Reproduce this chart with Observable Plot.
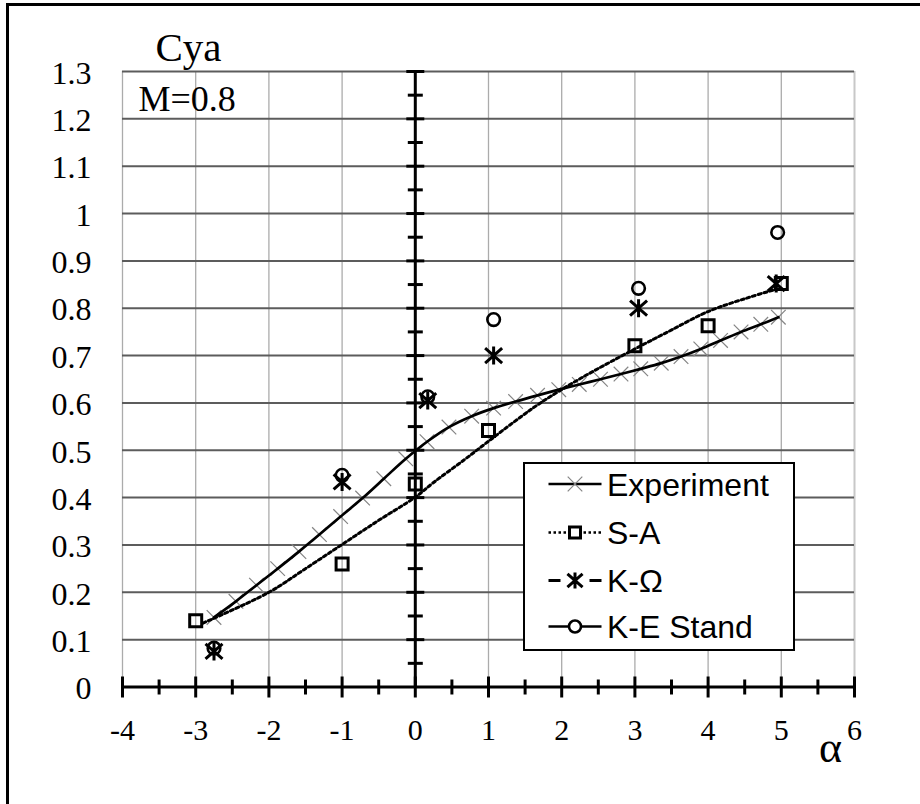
<!DOCTYPE html>
<html>
<head>
<meta charset="utf-8">
<script src="https://cdn.jsdelivr.net/npm/d3@7"></script>
<script src="https://cdn.jsdelivr.net/npm/@observablehq/plot@0.6"></script>
<style>
  html, body { margin: 0; padding: 0; background: #fff; overflow: hidden; }
  #wrap { position: relative; width: 920px; height: 804px; overflow: hidden; background: #fff; }
  #chart { position: absolute; left: 0; top: 0; }
  #chart svg text { font-family: "Liberation Serif", "Times New Roman", serif; }
  #border { position: absolute; left: 6px; top: 3px; width: 1000px; height: 1000px;
            border: 3px solid #000; box-sizing: border-box; pointer-events: none; }
  #legend { position: absolute; left: 523px; top: 462px; width: 272px; height: 189px;
            box-sizing: border-box; border: 2px solid #000; background: #fff; }
  #legend svg { position: absolute; left: 0; top: 0; }
  #legend svg text { font-family: "Liberation Sans", Arial, sans-serif; }
</style>
</head>
<body>
<div id="wrap">
  <div id="chart"></div>
  <div id="border"></div>
  <div id="legend"></div>
</div>
<script>
// Lift coefficient Cya versus angle of attack α at M = 0.8

// Experiment
const expAlpha = [-2.75, -2.45, -2.17, -1.88, -1.59, -1.31, -1.02, -0.72, -0.43, -0.13,
                  0.16, 0.46, 0.77, 1.07, 1.37, 1.67, 1.96, 2.24, 2.53, 2.81,
                  3.08, 3.36, 3.63, 3.90, 4.17, 4.45, 4.72, 4.96];
const expCya   = [0.147, 0.181, 0.215, 0.250, 0.286, 0.322, 0.360, 0.399, 0.440, 0.482,
                  0.518, 0.549, 0.572, 0.589, 0.603, 0.616, 0.628, 0.639, 0.650, 0.661,
                  0.672, 0.684, 0.698, 0.714, 0.732, 0.750, 0.766, 0.781];

// S-A: computed points and its dotted trend curve
const saAlpha = [-3, -1, 0, 1, 3, 4, 5];
const saCya   = [0.140, 0.260, 0.429, 0.542, 0.721, 0.763, 0.852];
const saCurveAlpha = [-2.9, -2.0, -1.5, -1.0, -0.5, 0, 0.25, 0.67, 1.0, 1.35, 1.71, 2.26, 3.0, 3.45, 4.0, 4.54, 4.95];
const saCurveCya   = [0.135, 0.200, 0.250, 0.301, 0.352, 0.401, 0.432, 0.480, 0.519, 0.560, 0.600, 0.652, 0.714, 0.750, 0.793, 0.822, 0.841];

// K-Ω
const kwAlpha = [-2.75, -1.0, 0.17, 1.07, 3.05, 4.93];
const kwCya   = [0.075, 0.433, 0.605, 0.700, 0.800, 0.852];

// K-E Stand
const keAlpha = [-2.75, -1.0, 0.17, 1.07, 3.05, 4.95];
const keCya   = [0.082, 0.447, 0.613, 0.776, 0.842, 0.960];

// Axes
const xMajorTicks = [-4, -3, -2, -1, 0, 1, 2, 3, 4, 5, 6];
const xMinorTicks = [-3.5, -2.5, -1.5, -0.5, 0.5, 1.5, 2.5, 3.5, 4.5, 5.5];
const xTickLabels = ["-4", "-3", "-2", "-1", "0", "1", "2", "3", "4", "5", "6"];
const yMajorTicks = [0, 0.1, 0.2, 0.3, 0.4, 0.5, 0.6, 0.7, 0.8, 0.9, 1, 1.1, 1.2, 1.3];
const yMinorTicks = [0.05, 0.15, 0.25, 0.35, 0.45, 0.55, 0.65, 0.75, 0.85, 0.95, 1.05, 1.15, 1.25];
const yTickLabels = ["0", "0.1", "0.2", "0.3", "0.4", "0.5", "0.6", "0.7", "0.8", "0.9", "1", "1.1", "1.2", "1.3"];

const seriesNames = ["Experiment", "S-A", "K-Ω", "K-E Stand"];

const rows = (xs, ys) => xs.map((a, i) => ({a, c: ys[i]}));
const expData = rows(expAlpha, expCya);
const saData = rows(saAlpha, saCya);
const saCurve = rows(saCurveAlpha, saCurveCya);
const kwData = rows(kwAlpha, kwCya);
const keData = rows(keAlpha, keCya);

// Custom symbols (size = r²π, as passed by Plot.dot)
const rad = size => Math.sqrt(size / Math.PI);
const vTick = {draw(ctx, size) { const r = rad(size); ctx.moveTo(0, -r); ctx.lineTo(0, r); }};
const hTick = {draw(ctx, size) { const r = rad(size); ctx.moveTo(-r, 0); ctx.lineTo(r, 0); }};
const openBox = {draw(ctx, size) { const r = rad(size); ctx.rect(-r, -r, 2 * r, 2 * r); }};
const star = {draw(ctx, size) {
  const k = rad(size) / 9;
  ctx.moveTo(0, -9 * k); ctx.lineTo(0, 9 * k);
  ctx.moveTo(-8.5 * k, -7.5 * k); ctx.lineTo(8.5 * k, 7.5 * k);
  ctx.moveTo(-8.5 * k, 7.5 * k); ctx.lineTo(8.5 * k, -7.5 * k);
}};
const cross = {draw(ctx, size) {
  const r = rad(size);
  ctx.moveTo(-r, -r); ctx.lineTo(r, r);
  ctx.moveTo(-r, r); ctx.lineTo(r, -r);
}};
const ring = {draw(ctx, size) { const r = rad(size); ctx.moveTo(r, 0); ctx.arc(0, 0, r, 0, 2 * Math.PI); }};

const serif = "Liberation Serif";

const plot = Plot.plot({
  width: 920,
  height: 804,
  marginLeft: 122,
  marginRight: 66,
  marginTop: 71,
  marginBottom: 117.5,
  x: {domain: [-4, 6]},
  y: {domain: [0, 1.3]},
  style: {background: "transparent", color: "#000", overflow: "visible"},
  marks: [
    // grid
    Plot.ruleX(xMajorTicks.filter(d => d !== 0 && d !== 6), {x: d => d, stroke: "#ababab", strokeWidth: 1.3}),
    Plot.ruleX([6], {x: d => d, stroke: "#c8c8c8", strokeWidth: 2}),
    Plot.ruleY(yMajorTicks.filter(d => d !== 0), {y: d => d, stroke: "#5c5c5c", strokeWidth: 2}),

    // axes through the origin
    Plot.ruleX([0], {x: d => d, stroke: "#000", strokeWidth: 3}),
    Plot.ruleY([0], {y: d => d, stroke: "#000", strokeWidth: 3}),
    Plot.dot(xMajorTicks, {x: d => d, y: () => 0, symbol: vTick, r: 10.5, stroke: "#000", strokeWidth: 3}),
    Plot.dot(xMinorTicks, {x: d => d, y: () => 0, symbol: vTick, r: 7.5, stroke: "#000", strokeWidth: 3}),
    Plot.dot(yMajorTicks.filter(d => d !== 0), {x: () => 0, y: d => d, symbol: hTick, r: 9, stroke: "#000", strokeWidth: 3}),
    Plot.dot(yMinorTicks, {x: () => 0, y: d => d, symbol: hTick, r: 7.5, stroke: "#000", strokeWidth: 3}),

    Plot.axisX({
      ticks: xMajorTicks, tickSize: 0, tickPadding: 32, fontSize: 30, fontFamily: serif, label: null,
      tickFormat: d => xTickLabels[xMajorTicks.indexOf(d)]
    }),
    Plot.axisY({
      ticks: yMajorTicks, tickSize: 0, tickPadding: 31, fontSize: 32, fontFamily: serif, dy: 2, label: null,
      tickFormat: d => yTickLabels[yMajorTicks.indexOf(d)]
    }),

    // Experiment
    Plot.dot(expData, {x: "a", y: "c", symbol: cross, r: 7.3, stroke: "#858585", strokeWidth: 1.2, fill: "none"}),
    Plot.line(expData, {x: "a", y: "c", curve: "catmull-rom", stroke: "#000", strokeWidth: 2.7}),

    // S-A
    Plot.line(saCurve, {x: "a", y: "c", curve: "catmull-rom", stroke: "#000", strokeWidth: 3, strokeDasharray: "3,3"}),
    Plot.dot(saData, {x: "a", y: "c", symbol: openBox, r: 6, stroke: "#000", strokeWidth: 3, fill: "none"}),

    // K-Ω
    Plot.dot(kwData, {x: "a", y: "c", symbol: star, r: 9, stroke: "#000", strokeWidth: 3, fill: "none"}),

    // K-E Stand
    Plot.dot(keData, {x: "a", y: "c", symbol: ring, r: 6.3, stroke: "#000", strokeWidth: 2.6, fill: "none"}),

    // titles
    Plot.text(["Cya"], {text: d => d, frameAnchor: "top-left", dx: 33, dy: -11, lineAnchor: "bottom",
                        textAnchor: "start", fontSize: 41, fontFamily: serif, fill: "#000"}),
    Plot.text(["M=0.8"], {text: d => d, frameAnchor: "top-left", dx: 16, dy: 39, lineAnchor: "bottom",
                          textAnchor: "start", fontSize: 36, fontFamily: serif, fill: "#000"}),
    Plot.text(["α"], {text: d => d, frameAnchor: "bottom-right", dx: -24, dy: 61, lineAnchor: "middle",
                      textAnchor: "middle", fontSize: 44, fontFamily: serif, fill: "#000"})
  ]
});
document.getElementById("chart").appendChild(plot);

// Legend box
(function drawLegend() {
  const svg = d3.select("#legend").append("svg").attr("width", 268).attr("height", 185);
  const rowY = [20, 68.5, 116.5, 162.5];
  const x0 = 23.5, x1 = 76.5, xm = 50, tx = 82;
  const symPath = (sym, r) => { const p = d3.path(); sym.draw(p, r * r * Math.PI); return p.toString(); };
  const g = svg.selectAll("g").data(seriesNames).join("g")
    .attr("transform", (d, i) => `translate(0,${rowY[i]})`);

  g.each(function (name, i) {
    const row = d3.select(this);
    if (i === 0) {
      row.append("line").attr("x1", x0).attr("x2", x1).attr("stroke", "#000").attr("stroke-width", 2.7);
      row.append("path").attr("d", symPath(cross, 7.3)).attr("transform", `translate(${xm},0)`)
        .attr("stroke", "#858585").attr("stroke-width", 1.2).attr("fill", "none");
    } else if (i === 1) {
      row.append("line").attr("x1", x0).attr("x2", x1).attr("stroke", "#000").attr("stroke-width", 2.5)
        .attr("stroke-dasharray", "2.5,2.5");
      row.append("path").attr("d", symPath(openBox, 5.5)).attr("transform", `translate(${xm},0)`)
        .attr("stroke", "#000").attr("stroke-width", 3).attr("fill", "#fff");
    } else if (i === 2) {
      row.append("line").attr("x1", x0).attr("x2", x0 + 12).attr("stroke", "#000").attr("stroke-width", 3);
      row.append("line").attr("x1", x1 - 12).attr("x2", x1).attr("stroke", "#000").attr("stroke-width", 3);
      row.append("path").attr("d", symPath(star, 8)).attr("transform", `translate(${xm},0)`)
        .attr("stroke", "#000").attr("stroke-width", 3).attr("fill", "none");
    } else {
      row.append("line").attr("x1", x0).attr("x2", x1).attr("stroke", "#000").attr("stroke-width", 2.7);
      row.append("path").attr("d", symPath(ring, 6)).attr("transform", `translate(${xm},0)`)
        .attr("stroke", "#000").attr("stroke-width", 2.6).attr("fill", "#fff");
    }
    row.append("text").attr("x", tx).attr("y", 11.5)
      .attr("font-size", 32).attr("fill", "#000").text(name);
  });
})();
</script>
</body>
</html>
